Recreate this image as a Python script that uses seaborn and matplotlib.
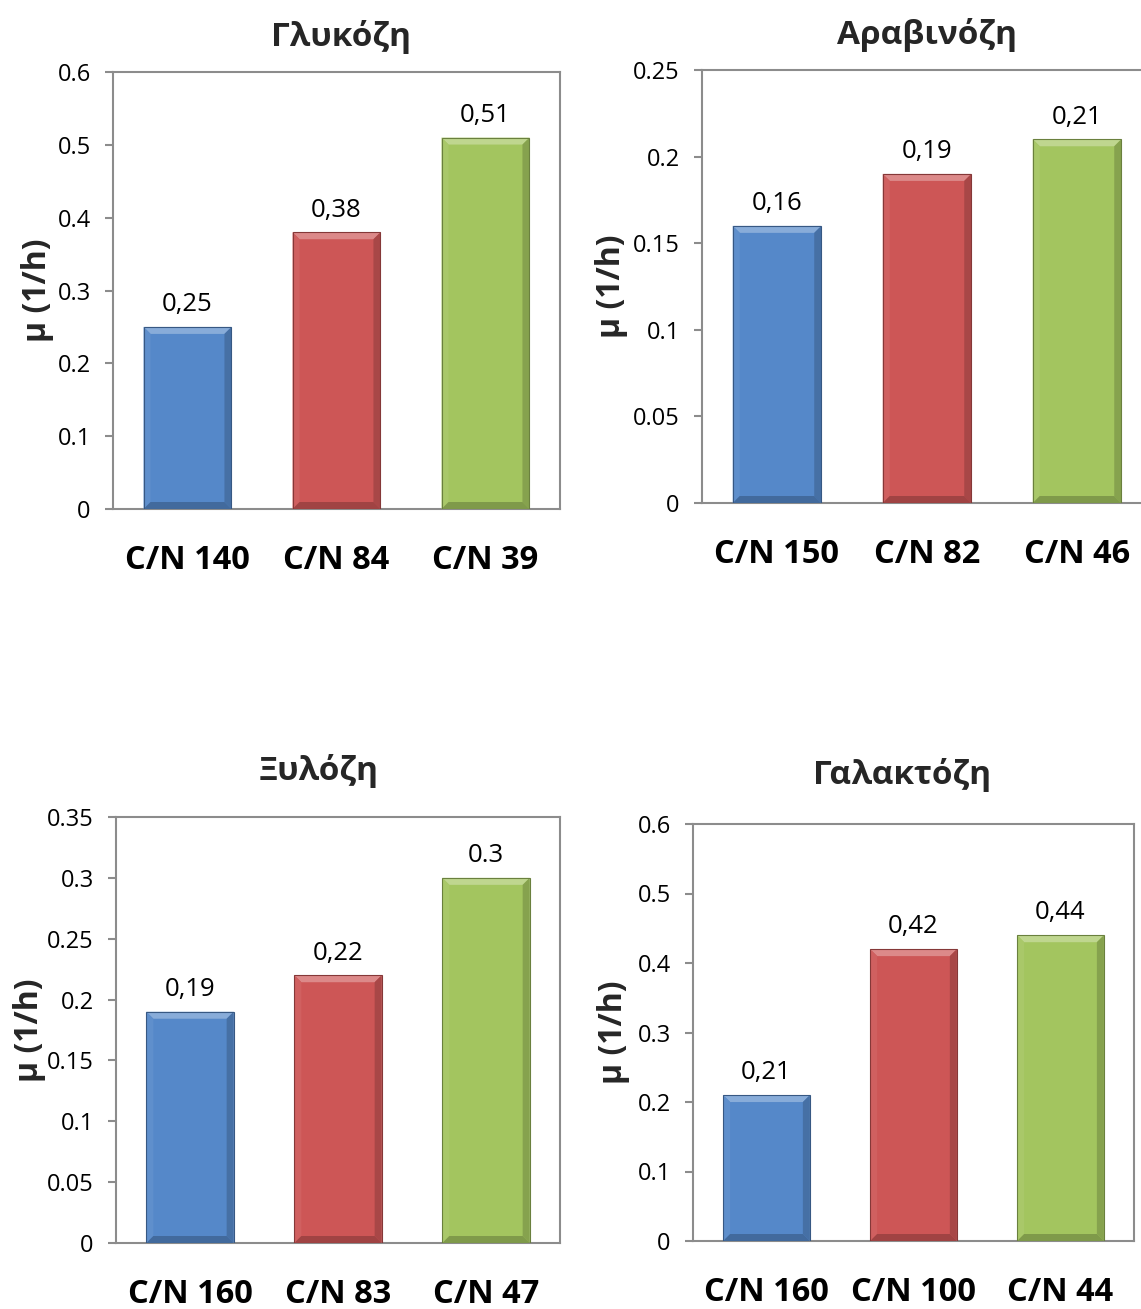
import matplotlib
matplotlib.use("Agg")
import matplotlib.pyplot as plt
import matplotlib.colors as mcolors
from matplotlib.patches import Polygon
from matplotlib.transforms import IdentityTransform
import pandas as pd
import seaborn as sns

# Specific growth rate per sugar and C/N ratio
glucose_cats = ["C/N 140", "C/N 84", "C/N 39"]
glucose_mu = [0.25, 0.38, 0.51]
glucose_labels = ["0,25", "0,38", "0,51"]

arabinose_cats = ["C/N 150", "C/N 82", "C/N 46"]
arabinose_mu = [0.16, 0.19, 0.21]
arabinose_labels = ["0,16", "0,19", "0,21"]

xylose_cats = ["C/N 160", "C/N 83", "C/N 47"]
xylose_mu = [0.19, 0.22, 0.30]
xylose_labels = ["0,19", "0,22", "0.3"]

galactose_cats = ["C/N 160", "C/N 100", "C/N 44"]
galactose_mu = [0.21, 0.42, 0.44]
galactose_labels = ["0,21", "0,42", "0,44"]

titles = ["Γλυκόζη", "Αραβινόζη", "Ξυλόζη", "Γαλακτόζη"]
y_tick_sets = [
    [0, 0.1, 0.2, 0.3, 0.4, 0.5, 0.6],
    [0, 0.05, 0.1, 0.15, 0.2, 0.25],
    [0, 0.05, 0.1, 0.15, 0.2, 0.25, 0.3, 0.35],
    [0, 0.1, 0.2, 0.3, 0.4, 0.5, 0.6],
]
y_label = "μ (1/h)"

bar_colors = ["#5588c9", "#cd5656", "#a3c55f"]

sns.set_style("white")
plt.rcParams["font.family"] = ["Open Sans", "DejaVu Sans"]

W, H = 1141, 1309
fig = plt.figure(figsize=(W / 100, H / 100), dpi=100)

# plot-area boxes in pixels: left, top, right, bottom
boxes = [(113, 72, 560, 509), (702, 70, 1152, 503),
         (116, 817, 560, 1243), (693, 824, 1134, 1241)]
title_pos = [(341, 37), (927, 35), (319, 771), (902, 775)]
ylabel_offset = [75, 90, 87, 79]

panels = [
    (glucose_cats, glucose_mu, glucose_labels),
    (arabinose_cats, arabinose_mu, arabinose_labels),
    (xylose_cats, xylose_mu, xylose_labels),
    (galactose_cats, galactose_mu, galactose_labels),
]


def shade(color, f):
    r, g, b = mcolors.to_rgb(color)
    if f >= 0:
        return (r + (1 - r) * f, g + (1 - g) * f, b + (1 - b) * f)
    return (r * (1 + f), g * (1 + f), b * (1 + f))


def add_bevel(ax, patch, color, b=7):
    x0, y0 = patch.get_x(), patch.get_y()
    x1, y1 = x0 + patch.get_width(), y0 + patch.get_height()
    (px0, py0), (px1, py1) = ax.transData.transform([(x0, y0), (x1, y1)])
    faces = [
        ([(px0, py1), (px1, py1), (px1 - b, py1 - b), (px0 + b, py1 - b)], 0.30),
        ([(px0, py0), (px0, py1), (px0 + b, py1 - b), (px0 + b, py0 + b)], 0.06),
        ([(px1, py0), (px1, py1), (px1 - b, py1 - b), (px1 - b, py0 + b)], -0.18),
        ([(px0, py0), (px1, py0), (px1 - b, py0 + b), (px0 + b, py0 + b)], -0.22),
    ]
    for pts, f in faces:
        ax.add_patch(Polygon(pts, closed=True, facecolor=shade(color, f),
                             edgecolor="none", transform=IdentityTransform(),
                             zorder=3))
    ax.add_patch(Polygon([(px0, py0), (px0, py1), (px1, py1), (px1, py0)],
                         closed=True, facecolor="none",
                         edgecolor=shade(color, -0.35), linewidth=0.8,
                         transform=IdentityTransform(), zorder=4))


for i, ((cats, vals, labels), box) in enumerate(zip(panels, boxes)):
    l, t, r, btm = box
    ax = fig.add_axes([l / W, 1 - btm / H, (r - l) / W, (btm - t) / H])
    df = pd.DataFrame({"cat": cats, "mu": vals})
    sns.barplot(data=df, x="cat", y="mu", hue="cat", palette=bar_colors,
                legend=False, width=0.59, saturation=1, ax=ax, zorder=2)
    ticks = y_tick_sets[i]
    ax.set_ylim(0, ticks[-1])
    ax.set_xlim(-0.5, 2.5)
    ax.set_yticks(ticks)
    ax.set_yticklabels([f"{v:g}" for v in ticks])
    ax.set_xlabel("")
    ax.set_ylabel(y_label, fontsize=23, fontweight="bold", va="center")
    ax.yaxis.set_label_coords(-ylabel_offset[i] / (r - l), 0.5)
    for s in ax.spines.values():
        s.set_visible(True)
        s.set_color("#8c8c8c")
        s.set_linewidth(1.5)
    ax.tick_params(axis="y", which="major", left=True, length=6, width=1.5,
                   color="#8c8c8c", labelsize=17, pad=10, labelcolor="black")
    ax.tick_params(axis="x", bottom=False, labelsize=23.5, pad=22,
                   labelcolor="black")
    for lab in ax.get_xticklabels():
        lab.set_fontweight("bold")

    for patch, color, txt in zip(ax.patches, bar_colors, labels):
        add_bevel(ax, patch, color)
        ax.annotate(txt, (patch.get_x() + patch.get_width() / 2, patch.get_height()),
                    xytext=(0, 7), textcoords="offset points",
                    ha="center", va="bottom", fontsize=18.5, color="black")

    tx, ty = title_pos[i]
    fig.text(tx / W, 1 - ty / H, titles[i], ha="center", va="center",
             fontsize=24, fontweight="bold")

fig.savefig("out.png", dpi=100, facecolor="white")
